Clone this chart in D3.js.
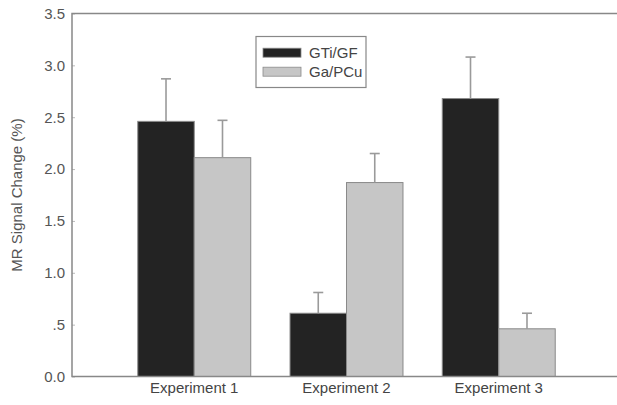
<!DOCTYPE html>
<html>
<head>
<meta charset="utf-8">
<script src="https://cdn.jsdelivr.net/npm/d3@7"></script>
<style>
  body { margin: 0; background: #fff; }
  text { font-family: "Liberation Sans", Arial, sans-serif; }
</style>
</head>
<body>
<svg id="chart" width="617" height="405"></svg>
<script>
// Data
const experiments = ["Experiment 1", "Experiment 2", "Experiment 3"];
const seriesNames = ["GTi/GF", "Ga/PCu"];
const gtiValues = [2.46, 0.61, 2.68];
const gtiErrors = [0.41, 0.20, 0.40];
const gaValues = [2.11, 1.87, 0.46];
const gaErrors = [0.36, 0.28, 0.15];
const yTicks = [0, 0.5, 1.0, 1.5, 2.0, 2.5, 3.0, 3.5];
const yTickLabels = ["0.0", ".5", "1.0", "1.5", "2.0", "2.5", "3.0", "3.5"];

const colors = { "GTi/GF": "#232323", "Ga/PCu": "#c6c6c6" };

// rows for drawing
let rows = [];
experiments.forEach((e, i) => {
    rows.push({ exp: e, series: "GTi/GF", value: gtiValues[i], err: gtiErrors[i] });
    rows.push({ exp: e, series: "Ga/PCu", value: gaValues[i], err: gaErrors[i] });
});

const svg = d3.select("#chart");
const mLeft = 72, mTop = 13.5, mBottom = 376.5, mRight = 621;

// Scales
const x0 = d3.scaleBand()
    .domain(experiments)
    .range([mLeft, mRight])
    .paddingInner(0.258)
    .paddingOuter(0.432);

const x1 = d3.scaleBand()
    .domain(seriesNames)
    .range([0, x0.bandwidth()]);

const y = d3.scaleLinear()
    .domain([0, 3.5])
    .range([mBottom, mTop]);

// Bars
svg.append("g").selectAll("rect")
    .data(rows)
    .join("rect")
    .attr("x", d => x0(d.exp) + x1(d.series))
    .attr("y", d => y(d.value))
    .attr("width", x1.bandwidth())
    .attr("height", d => y(0) - y(d.value))
    .attr("fill", d => colors[d.series])
    .attr("stroke", "#8a8a8a")
    .attr("stroke-width", 1);

// Error bars (upper only)
let errG = svg.append("g")
    .attr("stroke", "#9a9a9a")
    .attr("stroke-width", 1.6);

errG.selectAll("line.stem")
    .data(rows)
    .join("line")
    .attr("class", "stem")
    .attr("x1", d => x0(d.exp) + x1(d.series) + x1.bandwidth() / 2)
    .attr("x2", d => x0(d.exp) + x1(d.series) + x1.bandwidth() / 2)
    .attr("y1", d => y(d.value))
    .attr("y2", d => y(d.value + d.err));

errG.selectAll("line.cap")
    .data(rows)
    .join("line")
    .attr("class", "cap")
    .attr("x1", d => x0(d.exp) + x1(d.series) + x1.bandwidth() / 2 - 5)
    .attr("x2", d => x0(d.exp) + x1(d.series) + x1.bandwidth() / 2 + 5)
    .attr("y1", d => y(d.value + d.err))
    .attr("y2", d => y(d.value + d.err));

// Y axis
let yAxis = svg.append("g")
    .attr("transform", `translate(${mLeft},0)`)
    .call(d3.axisLeft(y)
        .tickValues(yTicks)
        .tickFormat((d, i) => yTickLabels[i])
        .tickSize(-3)
        .tickPadding(7));
yAxis.select(".domain").remove();
yAxis.selectAll(".tick line").attr("stroke", "#bbb");
yAxis.selectAll("text")
    .attr("fill", "#555")
    .style("font-size", "15px");

// Frame lines: left, bottom, top
svg.append("path")
    .attr("d", `M${mRight},${mTop}H${mLeft}V${mBottom}H${mRight}`)
    .attr("fill", "none")
    .attr("stroke", "#888")
    .attr("stroke-width", 1.5);

// X labels
let xAxis = svg.append("g")
    .attr("transform", `translate(0,${mBottom})`)
    .call(d3.axisBottom(x0).tickSize(0).tickPadding(6));
xAxis.select(".domain").remove();
xAxis.selectAll("text")
    .attr("fill", "#444")
    .style("font-size", "15px");

// Y title
svg.append("text")
    .attr("transform", `translate(22,${(mTop + mBottom) / 2}) rotate(-90)`)
    .attr("text-anchor", "middle")
    .attr("fill", "#555")
    .style("font-size", "15px")
    .text("MR Signal Change (%)");

// Legend
let lg = svg.append("g");
lg.append("rect")
    .attr("x", 256).attr("y", 36.5)
    .attr("width", 110).attr("height", 51)
    .attr("fill", "#fff")
    .attr("stroke", "#888")
    .attr("stroke-width", 1.2);

seriesNames.forEach((s, i) => {
    let cy = 52.7 + i * 19;
    lg.append("rect")
        .attr("x", 263).attr("y", cy - 4.5)
        .attr("width", 38).attr("height", 9)
        .attr("fill", colors[s])
        .attr("stroke", "#8a8a8a")
        .attr("stroke-width", 0.8);
    lg.append("text")
        .attr("x", 309).attr("y", cy)
        .attr("dy", "0.35em")
        .attr("fill", "#444")
        .style("font-size", "15px")
        .text(s);
});
</script>
</body>
</html>
